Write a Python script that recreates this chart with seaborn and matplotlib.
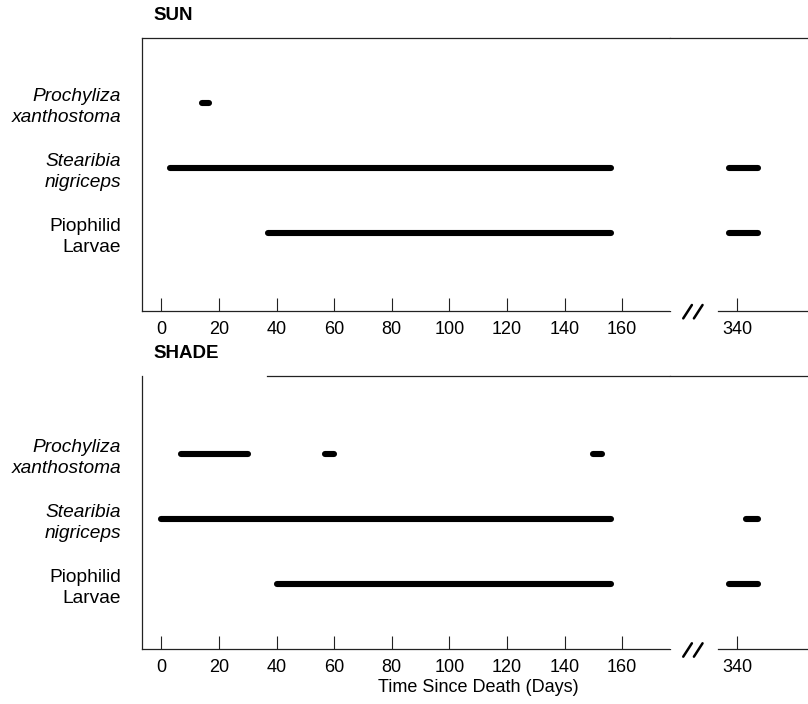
import pandas as pd
import matplotlib
matplotlib.use('Agg')
import matplotlib.pyplot as plt
import seaborn as sns

sns.set_theme(style='white')
plt.rcParams['font.family'] = ['Liberation Sans', 'DejaVu Sans']
plt.rcParams['text.color'] = 'black'
plt.rcParams['xtick.color'] = 'black'
plt.rcParams['ytick.color'] = 'black'

# row labels (top to bottom) and which ones are species names (italic)
species = ['Prochyliza\nxanthostoma', 'Stearibia\nnigriceps', 'Piophilid\nLarvae']
italic = [True, True, False]

# occurrence periods (start day, end day)
sun_prochyliza = [(14, 16.5)]
sun_stearibia = [(3, 156), (337, 347)]
sun_piophilid = [(37, 156), (337, 347)]

shade_prochyliza = [(7, 30), (57, 60), (150, 153)]
shade_stearibia = [(0, 156), (343, 347)]
shade_piophilid = [(40, 156), (337, 347)]

left_ticks = [0, 20, 40, 60, 80, 100, 120, 140, 160]
right_ticks = [340]


def to_frame(groups):
    # one pair of points per segment, seg id keeps segments apart
    rows = []
    for r, segs in enumerate(groups, start=1):
        for s, (a, b) in enumerate(segs):
            rows.append({'row': r, 'seg': f'{r}-{s}', 'day': a})
            rows.append({'row': r, 'seg': f'{r}-{s}', 'day': b})
    return pd.DataFrame(rows)


sun = to_frame([sun_prochyliza, sun_stearibia, sun_piophilid])
shade = to_frame([shade_prochyliza, shade_stearibia, shade_piophilid])

W, H = 808, 704
fig = plt.figure(figsize=(W / 100, H / 100), dpi=100)

x_left, x_mid, x_right = 142, 669.7, 808


def panel(df, bottom_px, top_px, ylim, top_start=None):
    b = 1 - bottom_px / H
    h = (bottom_px - top_px) / H
    axl = fig.add_axes([x_left / W, b, (x_mid - x_left) / W, h])
    axr = fig.add_axes([x_mid / W, b, (x_right - x_mid) / W, h])
    for ax in (axl, axr):
        sns.lineplot(data=df, x='day', y='row', units='seg', estimator=None,
                     sort=False, color='black', linewidth=4.4,
                     solid_capstyle='round', legend=False, ax=ax)
        ax.set_ylim(*ylim)
        ax.set_xlabel('')
        ax.set_ylabel('')
        ax.tick_params(axis='x', bottom=True, direction='in', length=9.4,
                       width=0.8, labelsize=13, pad=7, color='#222222')
        for sp in ax.spines.values():
            sp.set_linewidth(0.9)
            sp.set_color('#222222')
        ax.spines['right'].set_visible(False)

    axl.set_xlim(-6.7, 176.5)
    axl.set_xticks(left_ticks)
    axl.set_yticks([1, 2, 3])
    axl.set_yticklabels(species, linespacing=1.3)
    axl.tick_params(axis='y', left=False, length=0, pad=15, labelsize=13.8)
    for lab, it in zip(axl.get_yticklabels(), italic):
        if it:
            lab.set_fontstyle('italic')
    if top_start is not None:
        axl.spines['top'].set_bounds(top_start, 176.5)

    axr.set_xlim(316.5, 364.5)
    axr.set_xticks(right_ticks)
    axr.set_yticks([])
    axr.spines['left'].set_visible(False)
    axr.spines['bottom'].set_bounds(333.4, 364.5)

    # break marks "//"
    tr = axr.get_xaxis_transform()
    for x0 in (321.2, 324.9):
        axr.plot([x0, x0 + 3.0], [-0.027, 0.022], transform=tr, color='black',
                 linewidth=1.8, clip_on=False)
    return axl, axr


panel(sun, 311, 37.7, (4.2, 0))
panel(shade, 649.3, 375.7, (4.0, -0.2), top_start=36.8)

fig.text(153 / W, 1 - 16 / H, 'SUN', fontsize=13.5, fontweight='bold',
         ha='left', va='center')
fig.text(153 / W, 1 - 354 / H, 'SHADE', fontsize=13.5, fontweight='bold',
         ha='left', va='center')
fig.text(478 / W, 1 - 688 / H, 'Time Since Death (Days)', fontsize=13,
         ha='center', va='center')

fig.savefig('out.png', dpi=100)
